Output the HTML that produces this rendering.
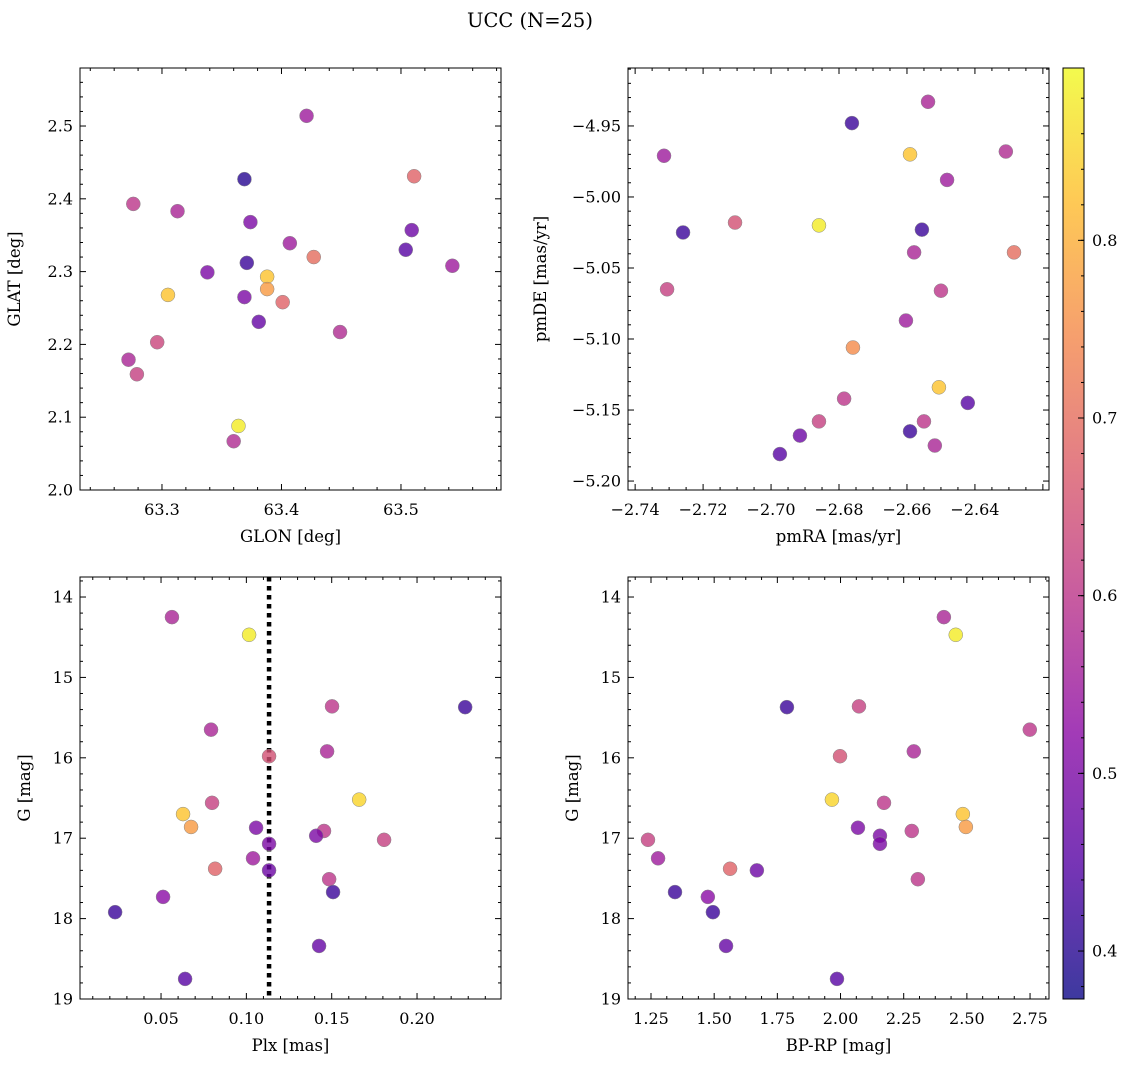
<!DOCTYPE html>
<html><head><meta charset="utf-8"><style>
body{margin:0;background:#fff;}
svg text{font-family:"DejaVu Serif","Liberation Serif",serif;fill:#000;}
</style></head><body>
<svg id="fig" width="1136" height="1067" viewBox="0 0 1136 1067" xmlns="http://www.w3.org/2000/svg">
<text x="530" y="27" font-size="19.5" text-anchor="middle">UCC (N=25)</text>
</svg>
<script>
// Panel 1: GLON vs GLAT
const p1x=[63.421,63.369,63.511,63.276,63.313,63.374,63.509,63.407,63.504,63.427,63.371,63.338,63.543,63.388,63.305,63.388,63.369,63.401,63.381,63.449,63.296,63.272,63.279,63.364,63.360];
const p1y=[2.514,2.427,2.431,2.393,2.383,2.368,2.357,2.339,2.330,2.320,2.312,2.299,2.308,2.293,2.268,2.276,2.265,2.258,2.231,2.217,2.203,2.179,2.159,2.088,2.067];
const p1c=[0.55,0.40,0.68,0.60,0.57,0.50,0.48,0.55,0.45,0.70,0.42,0.50,0.55,0.83,0.83,0.77,0.50,0.68,0.47,0.58,0.63,0.57,0.62,0.88,0.58];
// Panel 2: pmRA vs pmDE
const p2x=[-2.6538,-2.6762,-2.7315,-2.6591,-2.6309,-2.6482,-2.7106,-2.7259,-2.6859,-2.6556,-2.6579,-2.6285,-2.7306,-2.6500,-2.6603,-2.6759,-2.6506,-2.6785,-2.6421,-2.6859,-2.6550,-2.6591,-2.6915,-2.6518,-2.6974];
const p2y=[-4.933,-4.948,-4.971,-4.970,-4.968,-4.988,-5.018,-5.025,-5.020,-5.023,-5.039,-5.039,-5.065,-5.066,-5.087,-5.106,-5.134,-5.142,-5.145,-5.158,-5.158,-5.165,-5.168,-5.175,-5.181];
const p2c=[0.57,0.42,0.55,0.83,0.58,0.55,0.65,0.42,0.88,0.42,0.57,0.70,0.62,0.60,0.55,0.75,0.83,0.60,0.45,0.62,0.60,0.42,0.48,0.57,0.45];
// Panel 3: Plx vs G
const p3x=[0.0564,0.1016,0.2282,0.1502,0.0793,0.1473,0.1133,0.1661,0.0799,0.0629,0.0676,0.1057,0.1455,0.1409,0.1807,0.1133,0.1039,0.0817,0.1133,0.1485,0.1508,0.0512,0.0231,0.1426,0.0641];
const p3y=[14.25,14.47,15.37,15.36,15.65,15.92,15.98,16.52,16.56,16.70,16.86,16.87,16.91,16.97,17.02,17.07,17.25,17.38,17.40,17.51,17.67,17.73,17.92,18.34,18.75];
const p3c=[0.57,0.88,0.42,0.60,0.57,0.57,0.65,0.85,0.62,0.83,0.77,0.50,0.60,0.50,0.62,0.50,0.55,0.68,0.48,0.60,0.42,0.52,0.42,0.47,0.45];
const plxLine=0.1133;
// Panel 4: BP-RP vs G
const p4x=[2.409,2.456,2.749,1.788,2.073,2.290,1.998,1.966,2.172,2.484,2.496,2.069,2.282,2.156,1.238,2.156,1.278,1.563,1.669,2.306,1.345,1.475,1.495,1.547,1.986];
const p4y=[14.25,14.47,15.65,15.37,15.36,15.92,15.98,16.52,16.56,16.70,16.86,16.87,16.91,16.97,17.02,17.07,17.25,17.38,17.40,17.51,17.67,17.73,17.92,18.34,18.75];
const p4c=[0.57,0.88,0.60,0.42,0.62,0.57,0.65,0.85,0.60,0.83,0.77,0.50,0.60,0.50,0.62,0.50,0.55,0.68,0.48,0.60,0.42,0.52,0.42,0.47,0.45];
// tick labels
const p1xt=["63.3","63.4","63.5"], p1yt=["2.0","2.1","2.2","2.3","2.4","2.5"];
const p2xt=["-2.74","-2.72","-2.70","-2.68","-2.66","-2.64"], p2yt=["-4.95","-5.00","-5.05","-5.10","-5.15","-5.20"];
const p3xt=["0.05","0.10","0.15","0.20"], p3yt=["14","15","16","17","18","19"];
const p4xt=["1.25","1.50","1.75","2.00","2.25","2.50","2.75"], p4yt=["14","15","16","17","18","19"];
const cbt=["0.4","0.5","0.6","0.7","0.8"];
const cmin=0.373,cmax=0.897;

const NS="http://www.w3.org/2000/svg";
const svg=document.getElementById('fig');
function mk(t,a,p){const e=document.createElementNS(NS,t);for(const k in a)e.setAttribute(k,a[k]);(p||svg).appendChild(e);return e;}
const stops=[[13,8,135],[84,2,163],[139,10,165],[185,50,137],[219,92,104],[244,136,73],[254,188,43],[240,249,33]];
function plasma(v){let t=Math.max(0,Math.min(1,(v-cmin)/(cmax-cmin)))*(stops.length-1);let i=Math.min(stops.length-2,Math.floor(t));let f=t-i;const a=stops[i],b=stops[i+1];return `rgb(${[0,1,2].map(k=>Math.round(a[k]+(b[k]-a[k])*f)).join(',')})`;}
function fmt(s){return s.replace('-','\u2212');}
function minorN(step){const m=step/Math.pow(10,Math.floor(Math.log10(step)+1e-9));const r=Math.round(m*100)/100;return (r==1||r==5)?5:4;}
const ALPHA=0.8;

function panel(o){
  const g=mk('g',{});
  
  
  const X=v=>o.L+(v-o.x0)/(o.x1-o.x0)*(o.R-o.L);
  const Y=v=>o.inv? o.T+(v-o.y0)/(o.y1-o.y0)*(o.B-o.T) : o.B-(v-o.y0)/(o.y1-o.y0)*(o.B-o.T);
  function ticks(labels,isX){
    const vals=labels.map(s=>parseFloat(s));
    const step=vals[1]-vals[0];const n=minorN(Math.abs(step));
    const lo=isX?Math.min(o.x0,o.x1):Math.min(o.y0,o.y1), hi=isX?Math.max(o.x0,o.x1):Math.max(o.y0,o.y1);
    for(let k=-10*n;k<=(vals.length+10)*n;k++){
      const v=vals[0]+k*step/n; if(v<lo-1e-9||v>hi+1e-9)continue;
      const major=k%n==0, len=major?6:3;
      if(isX){const x=X(v);mk('line',{x1:x,x2:x,y1:o.B,y2:o.B-len,stroke:'#000','stroke-width':1},g);mk('line',{x1:x,x2:x,y1:o.T,y2:o.T+len,stroke:'#000','stroke-width':1},g);}
      else{const y=Y(v);mk('line',{x1:o.L,x2:o.L+len,y1:y,y2:y,stroke:'#000','stroke-width':1},g);mk('line',{x1:o.R,x2:o.R-len,y1:y,y2:y,stroke:'#000','stroke-width':1},g);}
    }
    labels.forEach((s,i)=>{const v=vals[i];
      if(isX){const t=mk('text',{x:X(v),y:o.B+25,'font-size':16,'text-anchor':'middle'},g);t.textContent=fmt(s);}
      else{const t=mk('text',{x:o.L-7,y:Y(v)+5.5,'font-size':16,'text-anchor':'end'},g);t.textContent=fmt(s);}
    });
  }
  ticks(o.xt,true);ticks(o.yt,false);
  if(o.vline!==undefined){const l=mk('line',{x1:X(o.vline),x2:X(o.vline),y1:o.T,y2:o.B,stroke:'#000','stroke-width':4.5,'stroke-dasharray':'4.5 4.5'},g);}
  o.xs.forEach((xv,i)=>{const c=mk('circle',{cx:X(xv),cy:Y(o.ys[i]),r:7,fill:plasma(o.cs[i]),'fill-opacity':ALPHA,stroke:'#888','stroke-width':0.5},g);
    });
  const fr=mk('rect',{x:o.L,y:o.T,width:o.R-o.L,height:o.B-o.T,fill:'none',stroke:'#000','stroke-width':1},g);
  
  const xl=mk('text',{x:(o.L+o.R)/2,y:o.B+52,'font-size':16.5,'text-anchor':'middle'},g);xl.textContent=o.xlab;
  
  const cy=(o.T+o.B)/2, cx=o.L-o.ylx;
  const yl=mk('text',{x:cx,y:cy,'font-size':16.5,'text-anchor':'middle',transform:`rotate(-90 ${cx} ${cy})`},g);yl.textContent=o.ylab;
  
}
panel({name:'glon-glat-panel',L:80,R:501,T:68,B:490,x0:63.2314,x1:63.5837,y0:2.0,y1:2.5797,xs:p1x,ys:p1y,cs:p1c,xt:p1xt,yt:p1yt,xlab:'GLON [deg]',ylab:'GLAT [deg]',ylx:60});
panel({name:'proper-motion-panel',L:628,R:1049,T:68,B:490,x0:-2.7421,x1:-2.6182,y0:-5.2063,y1:-4.9092,xs:p2x,ys:p2y,cs:p2c,xt:p2xt,yt:p2yt,xlab:'pmRA [mas/yr]',ylab:'pmDE [mas/yr]',ylx:82});
panel({name:'plx-g-panel',L:80,R:501,T:577,B:999,inv:true,x0:0.00252,x1:0.2492,y0:13.751,y1:19.0,xs:p3x,ys:p3y,cs:p3c,xt:p3xt,yt:p3yt,xlab:'Plx [mas]',ylab:'G [mag]',ylx:50,vline:plxLine});
panel({name:'cmd-panel',L:628,R:1049,T:577,B:999,inv:true,x0:1.159,x1:2.825,y0:13.751,y1:19.0,xs:p4x,ys:p4y,cs:p4c,xt:p4xt,yt:p4yt,xlab:'BP-RP [mag]',ylab:'G [mag]',ylx:50});

// colorbar
const cb=mk('g',{});


const defs=mk('defs',{},cb);const lg=mk('linearGradient',{id:'pl',x1:0,y1:1,x2:0,y2:0},defs);
stops.forEach((s,i)=>mk('stop',{offset:i/(stops.length-1),'stop-color':`rgb(${s.join(',')})`,'stop-opacity':ALPHA},lg));
const CT=68,CB=999,CL=1063,CR=1084;
mk('rect',{x:CL,y:CT,width:CR-CL,height:CB-CT,fill:'url(#pl)',stroke:'#000','stroke-width':1},cb);
const CY=v=>CB-(v-cmin)/(cmax-cmin)*(CB-CT);
for(let v=0.38;v<=0.89;v+=0.02){const y=CY(v);mk('line',{x1:CR,x2:CR-3,y1:y,y2:y,stroke:'#000'},cb);}
cbt.forEach(s=>{const y=CY(parseFloat(s));mk('line',{x1:CR,x2:CR-6,y1:y,y2:y,stroke:'#000'},cb);
  const t=mk('text',{x:CR+8,y:y+5.5,'font-size':16},cb);t.textContent=s;
  });
</script>
</body></html>
